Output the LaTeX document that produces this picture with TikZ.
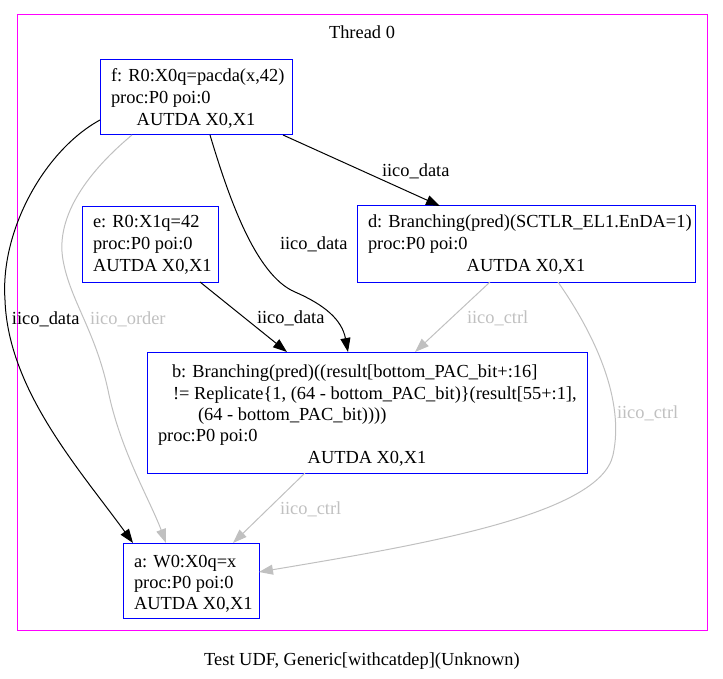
\documentclass[tikz,border=0pt]{standalone}
\usepackage{fontspec}
\setmainfont{Liberation Serif}
\usetikzlibrary{arrows.meta}
\definecolor{nodeblue}{RGB}{0,0,255}
\definecolor{clustermag}{RGB}{255,0,255}
\definecolor{edgegray}{RGB}{192,192,192}
\begin{document}
\begin{tikzpicture}[x=1pt,y=-1pt,
  every node/.style={font=\fontsize{18.4}{22.4}\selectfont, inner sep=0pt, outer sep=0pt},
  evbox/.style={draw=nodeblue, line width=1pt},
  txt/.style={anchor=base west},
  ctxt/.style={anchor=base},
  dep/.style={line width=1pt, -{Triangle[length=14pt,width=10pt]}},
  data/.style={dep, draw=black},
  soft/.style={dep, draw=edgegray},
  lbl/.style={anchor=base west},
  softlbl/.style={lbl, text=edgegray}]

\useasboundingbox (0,0) rectangle (723,679);

% thread cluster and caption
\node[draw=clustermag, line width=1pt, minimum width=690pt, minimum height=615pt] (thread) at (362,322.5) {};
\node[ctxt] (threadtitle) at (362,39) {Thread 0};
\node[ctxt] (caption) at (362,665) {Test UDF, Generic[withcatdep](Unknown)};

% event boxes
\node[evbox, minimum width=192pt, minimum height=75pt] (f) at (196,97.5) {};
\node[evbox, minimum width=136pt, minimum height=75pt] (e) at (150,244.5) {};
\node[evbox, minimum width=338pt, minimum height=76pt] (d) at (526,244) {};
\node[evbox, minimum width=440pt, minimum height=121pt] (b) at (367,412.5) {};
\node[evbox, minimum width=136pt, minimum height=75pt] (a) at (191,580.5) {};

% event texts
\node[txt] (f1) at (111,82) {f: R0:X0q=pacda(x,42)};
\node[txt] (f2) at (111,104) {proc:P0 poi:0};
\node[ctxt] (f3) at (196,126) {AUTDA X0,X1};

\node[txt] (e1) at (93,228) {e: R0:X1q=42};
\node[txt] (e2) at (93,250) {proc:P0 poi:0};
\node[txt] (e3) at (93,272) {AUTDA X0,X1};

\node[txt] (d1) at (368,228) {d: Branching(pred)(SCTLR\_EL1.EnDA=1)};
\node[txt] (d2) at (368,250) {proc:P0 poi:0};
\node[ctxt] (d3) at (526,272) {AUTDA X0,X1};

\node[txt] (b1) at (172,377) {b: Branching(pred)((result[bottom\_PAC\_bit+:16]};
\node[txt] (b2) at (173,399) {!= Replicate\{1, (64 - bottom\_PAC\_bit)\}(result[55+:1],};
\node[txt] (b3) at (198,420) {(64 - bottom\_PAC\_bit))))};
\node[txt] (b4) at (158,441) {proc:P0 poi:0};
\node[ctxt] (b5) at (367,463) {AUTDA X0,X1};

\node[txt] (a1) at (134,567) {a: W0:X0q=x};
\node[txt] (a2) at (134,588) {proc:P0 poi:0};
\node[txt] (a3) at (134,609) {AUTDA X0,X1};

% dependencies
\draw[data] ([yshift=-22.5pt]f.west) .. controls (45,150) and (0,230) .. (5,300)
  .. controls (8,390) and (80,470) .. ([xshift=-58pt]a.north);
\draw[soft] ([xshift=-64pt]f.south) .. controls (90,170) and (55,215) .. (63,260)
  .. controls (70,300) and (95,330) .. (108,390)
  .. controls (120,450) and (150,500) .. ([xshift=-25pt]a.north);
\draw[data] ([xshift=14pt]f.south) .. controls (228,195) and (255,275) .. (295,292)
  .. controls (325,305) and (342,320) .. ([xshift=-19pt]b.north);
\draw[data] ([xshift=-9pt]f.south east) -- ([xshift=-86pt]d.north);
\draw[data] ([xshift=-18pt]e.south east) -- ([xshift=-80pt]b.north);
\draw[soft] ([xshift=-36pt]d.south) -- ([xshift=48pt]b.north);
\draw[soft] ([xshift=32pt]d.south) .. controls (595,335) and (625,400) .. (613,455)
  .. controls (600,515) and (420,545) .. ([yshift=8.5pt]a.east);
\draw[soft] ([xshift=-62pt]b.south) -- ([xshift=42pt]a.north);

% dependency labels
\node[lbl] (lfd) at (382,177) {iico\_data};
\node[lbl] (lfb) at (280,250) {iico\_data};
\node[lbl] (leb) at (257,323) {iico\_data};
\node[lbl] (lfa) at (12,324) {iico\_data};
\node[softlbl] (lfo) at (90,324) {iico\_order};
\node[softlbl] (ldb) at (467,323) {iico\_ctrl};
\node[softlbl] (lda) at (617,418) {iico\_ctrl};
\node[softlbl] (lba) at (280,514) {iico\_ctrl};
\end{tikzpicture}
\end{document}
